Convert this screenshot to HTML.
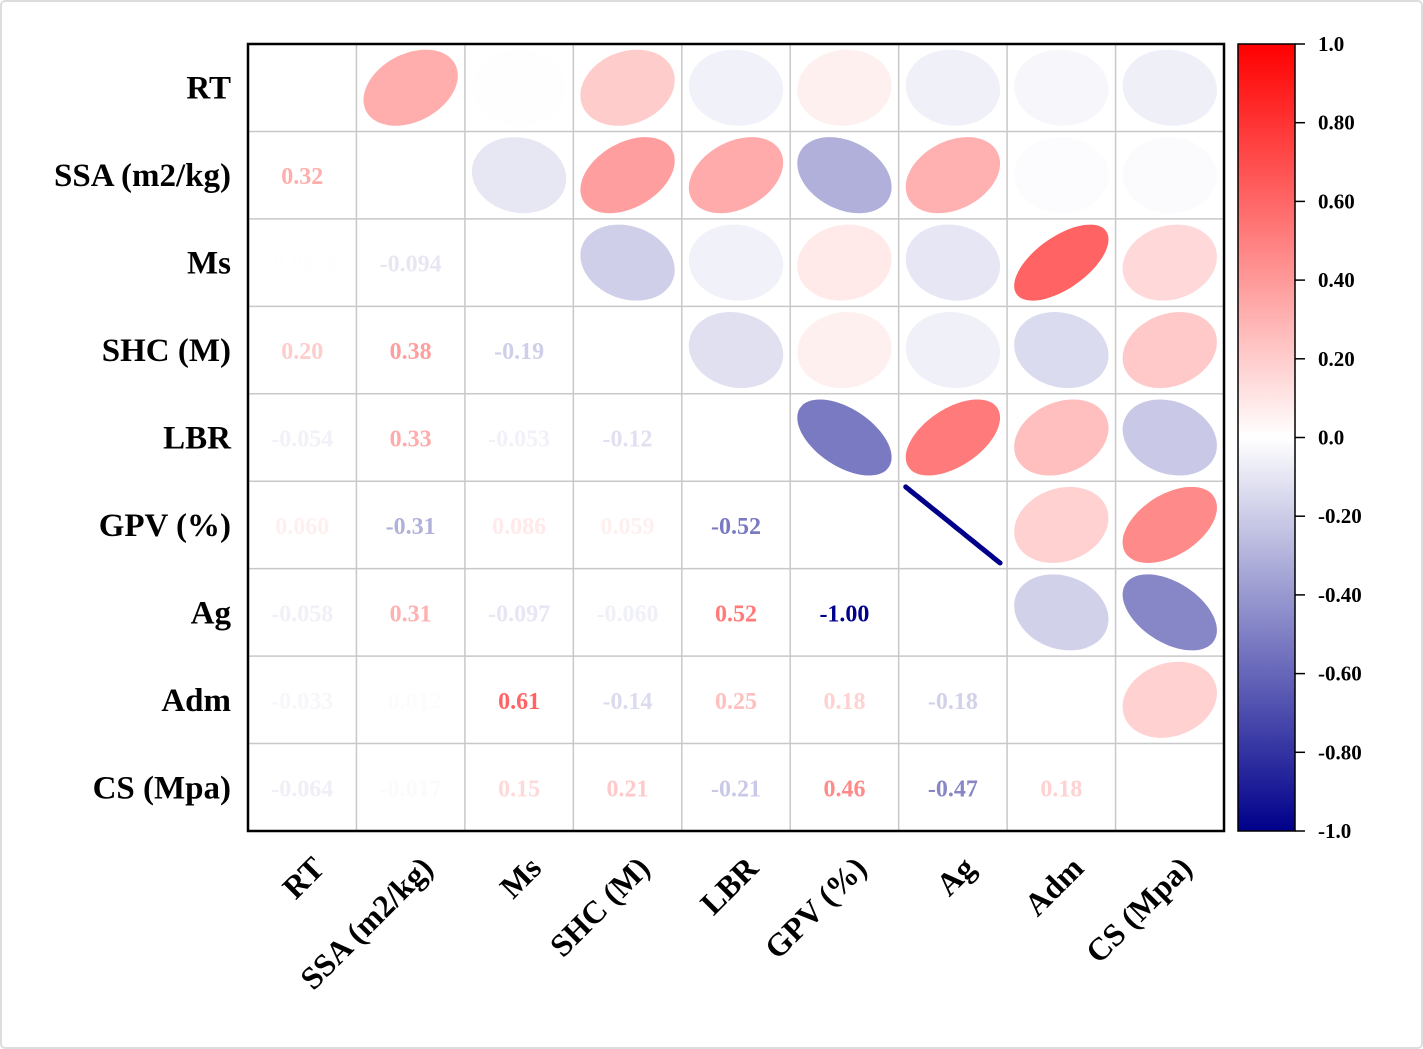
<!DOCTYPE html>
<html><head><meta charset="utf-8"><style>
html,body{margin:0;padding:0;background:#fff;}
svg{display:block;font-family:"Liberation Serif",serif;font-weight:bold;}
</style></head><body>
<svg id="chart" width="1423" height="1049" viewBox="0 0 1423 1049">
<rect x="1" y="1" width="1421" height="1047" rx="4" fill="#fff" stroke="#ddd" stroke-width="2"/>
<g id="grid"></g>
<g id="marks"></g>
<rect x="248" y="44" width="976" height="787" fill="none" stroke="#000" stroke-width="2.5"/>
<g id="labels"></g>
<defs><linearGradient id="cb" x1="0" y1="0" x2="0" y2="1">
<stop offset="0" stop-color="#ff0000"/><stop offset="0.5" stop-color="#ffffff"/><stop offset="1" stop-color="#00008b"/></linearGradient></defs>
<rect x="1238" y="44" width="57" height="787" fill="url(#cb)" stroke="#000" stroke-width="1.5"/>
<g id="cbticks"></g>
</svg>
<script>
const names=["RT","SSA (m2/kg)","Ms","SHC (M)","LBR","GPV (%)","Ag","Adm","CS (Mpa)"];
const corrRT=[1,0.32,-0.0050,0.20,-0.054,0.060,-0.058,-0.033,-0.064];
const corrSSA=[0.32,1,-0.094,0.38,0.33,-0.31,0.31,-0.012,-0.017];
const corrMs=[-0.0050,-0.094,1,-0.19,-0.053,0.086,-0.097,0.61,0.15];
const corrSHC=[0.20,0.38,-0.19,1,-0.12,0.059,-0.060,-0.14,0.21];
const corrLBR=[-0.054,0.33,-0.053,-0.12,1,-0.52,0.52,0.25,-0.21];
const corrGPV=[0.060,-0.31,0.086,0.059,-0.52,1,-1.00,0.18,0.46];
const corrAg=[-0.058,0.31,-0.097,-0.060,0.52,-1.00,1,-0.18,-0.47];
const corrAdm=[-0.033,-0.012,0.61,-0.14,0.25,0.18,-0.18,1,0.18];
const corrCS=[-0.064,-0.017,0.15,0.21,-0.21,0.46,-0.47,0.18,1];
const matrix=[corrRT,corrSSA,corrMs,corrSHC,corrLBR,corrGPV,corrAg,corrAdm,corrCS];
const labelsTxt=["RT","SSA","Ms","SHC","LBR","GPV","Ag","Adm","CS"];
const cbTicks=[1.0,0.8,0.6,0.4,0.2,0.0,-0.2,-0.4,-0.6,-0.8,-1.0];
const cbTickLabels=["1.0","0.80","0.60","0.40","0.20","0.0","-0.20","-0.40","-0.60","-0.80","-1.0"];

const NS="http://www.w3.org/2000/svg";
const X0=248,Y0=44,W=976,H=787,n=names.length,cw=W/n,ch=H/n;
const cx=j=>X0+cw*(j+0.5), cy=i=>Y0+ch*(i+0.5);
const cbY=v=>44+(1-v)/2*787;
function col(r){
  const t=Math.min(1,Math.abs(r));
  if(r>=0){return `rgb(255,${Math.round(255*(1-t))},${Math.round(255*(1-t))})`;}
  return `rgb(${Math.round(255*(1-t))},${Math.round(255*(1-t))},${Math.round(255-116*t)})`;
}
function mk(tag,attrs,parent){const e=document.createElementNS(NS,tag);for(const k in attrs)e.setAttribute(k,attrs[k]);parent.appendChild(e);return e;}
const grid=document.getElementById('grid'),marks=document.getElementById('marks'),labels=document.getElementById('labels'),cbt=document.getElementById('cbticks');
for(let k=1;k<n;k++){
  const v=mk('line',{x1:X0+cw*k,x2:X0+cw*k,y1:Y0,y2:Y0+H,stroke:'#c8c8c8','stroke-width':1.5},grid);
  
  
  const h=mk('line',{x1:X0,x2:X0+W,y1:Y0+ch*k,y2:Y0+ch*k,stroke:'#c8c8c8','stroke-width':1.5},grid);
  
  
}
for(let i=0;i<n;i++)for(let j=0;j<n;j++){
  const r=matrix[i][j];
  if(i===j)continue;
  if(j>i){
    const a=Math.sqrt(1+r),b=Math.sqrt(Math.max(0,1-r));
    const sx=cw/2*0.87,sy=ch/2*0.87;let pts=[];
    for(let s=0;s<72;s++){const t=s/72*2*Math.PI;const u=a*Math.cos(t),w=b*Math.sin(t);
      const x=(u-w)/Math.SQRT2,y=(u+w)/Math.SQRT2;
      pts.push((cx(j)+x*sx).toFixed(1)+','+(cy(i)-y*sy).toFixed(1));}
    const p=mk('polygon',{points:pts.join(' '),fill:col(r),stroke:Math.abs(r)>0.95?col(r):'none','stroke-width':Math.abs(r)>0.95?5:0,'stroke-linejoin':'round'},marks);
    
    
  }else{
    const tt=mk('text',{x:cx(j),y:cy(i)+9,'text-anchor':'middle','font-size':24,fill:col(r)},marks);
    tt.textContent=(Math.abs(r)<0.1&&Math.abs(r)>=0.01)?r.toFixed(3):(Math.abs(r)<0.01?r.toFixed(4):r.toFixed(2));
    
    
  }
}
names.forEach((nm,i)=>{
  const t=mk('text',{x:231,y:cy(i)+11,'text-anchor':'end','font-size':33},labels);
  t.textContent=nm;
  
  
  const c=mk('text',{x:0,y:0,'text-anchor':'end','font-size':32,transform:`translate(${cx(i)+24},${870}) rotate(-45)`},labels);
  c.textContent=nm;
  
  
});
cbTicks.forEach((v,k)=>{
  const l=mk('line',{x1:1295,x2:1305,y1:cbY(v),y2:cbY(v),stroke:'#000','stroke-width':1.5},cbt);
  
  
  const t=mk('text',{x:1318,y:cbY(v)+7,'font-size':21},cbt);
  t.textContent=cbTickLabels[k];
  
  
});
</script>
</body></html>
